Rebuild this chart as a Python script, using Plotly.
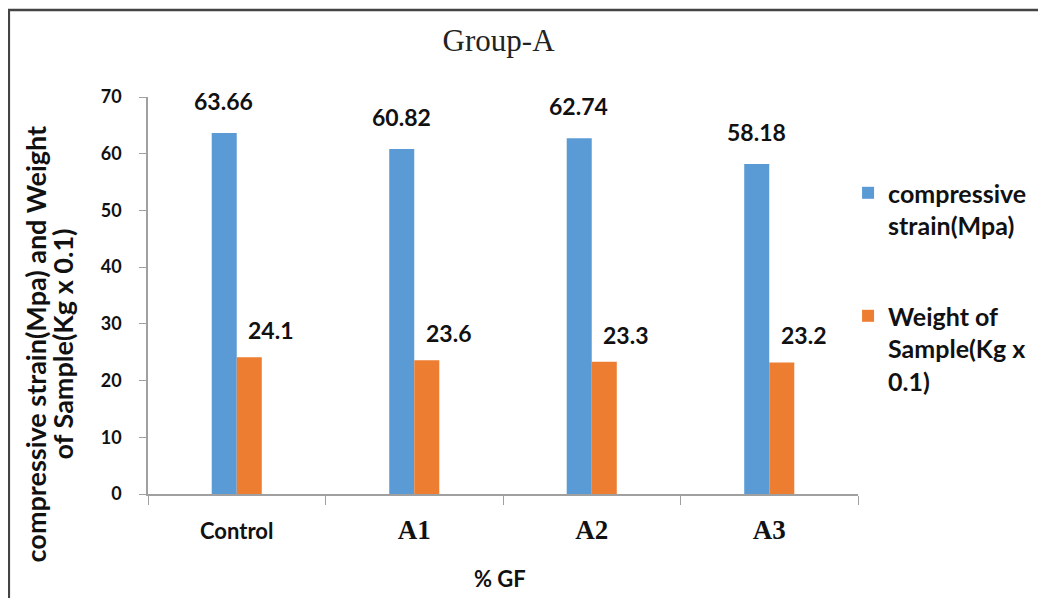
import plotly.graph_objects as go

categories = ["Control", "A1", "A2", "A3"]
compressive_strain = [63.66, 60.82, 62.74, 58.18]
sample_weight = [24.1, 23.6, 23.3, 23.2]
blue_labels = ["63.66", "60.82", "62.74", "58.18"]
orange_labels = ["24.1", "23.6", "23.3", "23.2"]
y_ticks = [0, 10, 20, 30, 40, 50, 60, 70]

BLUE = "#5B9BD5"
ORANGE = "#ED7D31"
SANS = "Lato"
SERIF = "Liberation Serif"
INK = "#111111"

fig = go.Figure()
fig.add_trace(go.Bar(
    x=categories, y=compressive_strain, name="compressive<br>strain(Mpa)",
    marker=dict(color=BLUE, line=dict(width=0)), legendgroup="a",
))
fig.add_trace(go.Bar(
    x=categories, y=sample_weight, name="Weight of<br>Sample(Kg x<br>0.1)",
    marker=dict(color=ORANGE, line=dict(width=0)), legendgroup="b",
))

annotations = []
for c, v, t in zip(categories, compressive_strain, blue_labels):
    annotations.append(dict(x=c, y=v, text=t, showarrow=False,
                            xshift=-13, yshift=32, yanchor="middle",
                            font=dict(family=SANS, size=23, color=INK, weight="bold")))
for c, v, t in zip(categories, sample_weight, orange_labels):
    annotations.append(dict(x=c, y=v, text=t, showarrow=False,
                            xshift=34, yshift=27, yanchor="middle",
                            font=dict(family=SANS, size=23, color=INK, weight="bold")))

# y-axis title (two lines)
annotations.append(dict(
    xref="paper", yref="paper", x=-0.1585, y=0.378,
    text="compressive strain(Mpa) and Weight",
    textangle=-90, showarrow=False, xanchor="center", yanchor="middle",
    font=dict(family=SANS, size=27, color=INK, weight="bold"),
))
annotations.append(dict(
    xref="paper", yref="paper", x=-0.1205, y=0.378,
    text="of Sample(Kg x 0.1)",
    textangle=-90, showarrow=False, xanchor="center", yanchor="middle",
    font=dict(family=SANS, size=27, color=INK, weight="bold"),
))
# x-axis title
annotations.append(dict(
    xref="paper", yref="paper", x=0.496, y=-0.214,
    text="% GF", showarrow=False, xanchor="center", yanchor="middle",
    font=dict(family=SANS, size=22, color=INK, weight="bold"),
))

ticktext = []
for c in categories:
    if c == "Control":
        ticktext.append(f"<b>{c}</b>")
    else:
        ticktext.append(f"<span style='font-family:{SERIF};font-size:27px'><b>{c}</b></span>")

fig.update_layout(
    width=1046, height=598,
    margin=dict(l=140, r=196, t=89, b=112),
    paper_bgcolor="white", plot_bgcolor="white",
    barmode="group", bargap=0.718, bargroupgap=0,
    title=dict(text="Group-A", x=0.469, xanchor="center", y=0.947, yanchor="middle",
               font=dict(family=SERIF, size=31, color="#222222")),
    xaxis=dict(
        type="category", tickmode="array", tickvals=categories, ticktext=ticktext,
        tickson="boundaries", ticks="outside", ticklen=9, tickcolor="#A0A0A0",
        showline=True, linecolor="#A0A0A0", linewidth=2, showgrid=False,
        tickfont=dict(family=SANS, size=22, color=INK, weight="bold"),
        ticklabelstandoff=17,
    ),
    yaxis=dict(
        range=[0, 70], tickvals=y_ticks, ticks="outside", ticklen=7, tickcolor="#A0A0A0",
        showline=True, linecolor="#A0A0A0", linewidth=1.5, showgrid=False, zeroline=False,
        tickfont=dict(family=SANS, size=18, color=INK, weight="bold"),
        ticklabelstandoff=14,
    ),
    legend=dict(
        x=0.986, xanchor="left", y=0.816, yanchor="top", valign="top",
        font=dict(family=SANS, size=25, color=INK, weight="bold"),
        tracegroupgap=55, traceorder="grouped", bgcolor="rgba(0,0,0,0)",
    ),
    annotations=annotations,
    shapes=[dict(type="rect", xref="paper", yref="paper",
                 x0=-0.196, x1=1.262, y0=-0.30, y1=1.219,
                 line=dict(color="#444444", width=2.5), layer="below")],
)

fig.write_html("out.html")
